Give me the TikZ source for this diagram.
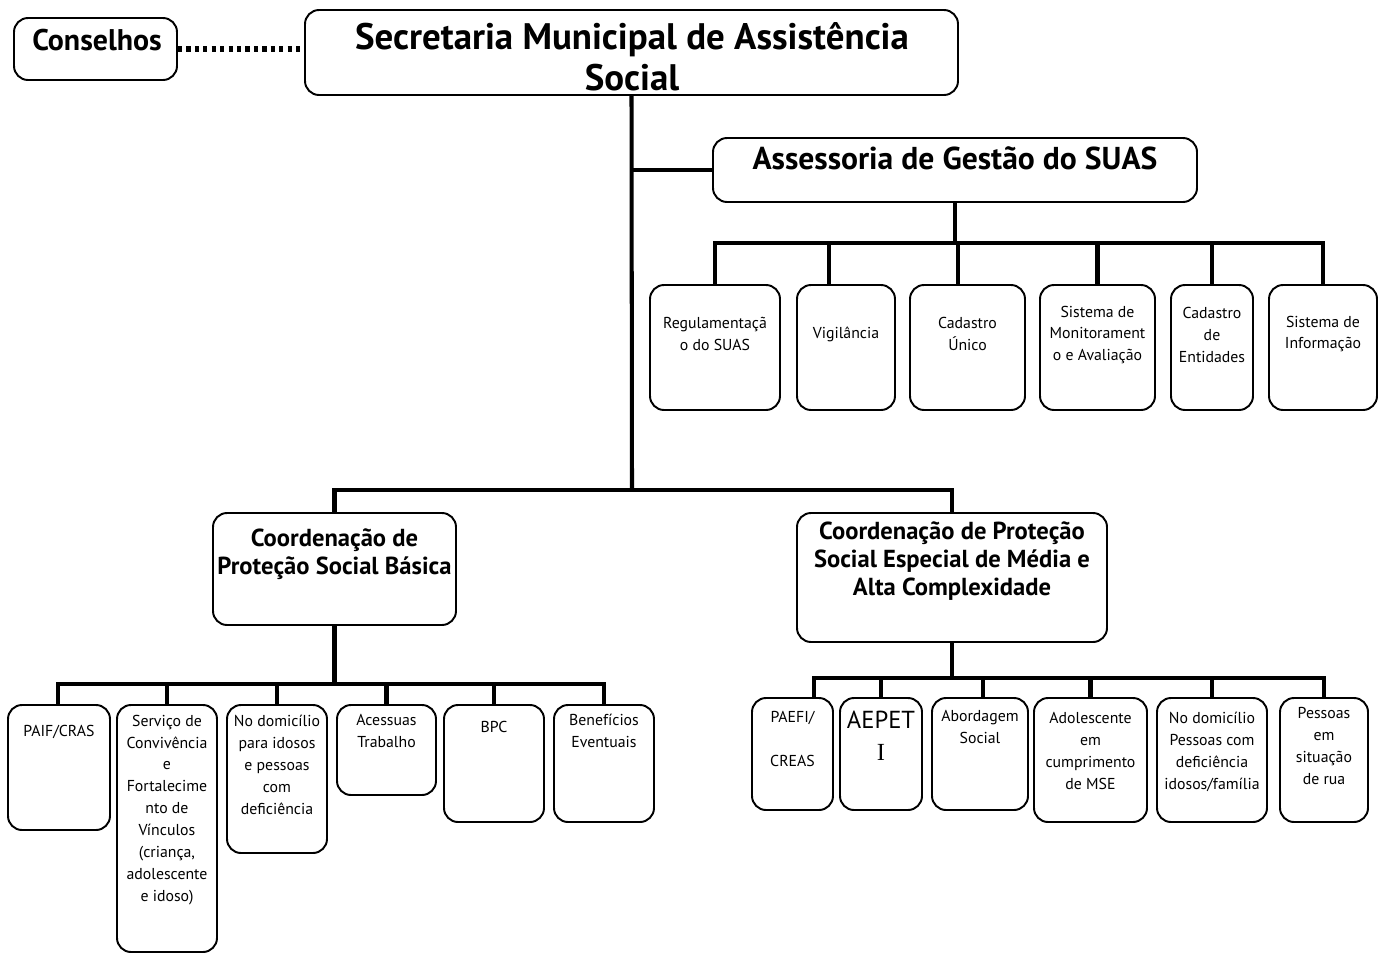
\documentclass[tikz,border=0pt]{standalone}
\usepackage{fontspec}
\setmainfont{PT Sans}
\newfontfamily\serifI{Liberation Serif}
\usetikzlibrary{positioning}

\tikzset{
  box/.style={draw, rounded corners=8pt, line width=1.1pt, inner sep=0pt},
  bw/.style={minimum width=#1*0.02cm},
  bh/.style={minimum height=#1*0.02cm},
  txt/.style={align=center, inner sep=0pt, font=\fontsize{9}{12.5}\selectfont},
  head/.style={align=center, inner sep=0pt, font=\bfseries\fontsize{14}{15.9}\selectfont},
  link/.style={line width=2.3pt},
  dots/.style={line width=3pt, dash pattern=on 2.4pt off 2.4pt},
}

\begin{document}
\begin{tikzpicture}[x=0.02cm, y=-0.02cm]
    \useasboundingbox (0,0) rectangle (1383,954);

    % Top level
    \node[box, bw=163, bh=62] (cons) at (95.5,49) {};
    \node[head, font=\bfseries\fontsize{17}{19}\selectfont] (cons-t) at (97,40) {Conselhos};
    \node[box, bw=653, bh=85] (sec) at (631.5,52.5) {};
    \node[head, font=\bfseries\fontsize{21}{23.4}\selectfont] (sec-t) at (632,57) {Secretaria Municipal de Assistência\\Social};
    \node[box, bw=484, bh=64] (ass) at (955,170) {};
    \node[head, font=\bfseries\fontsize{18}{20}\selectfont] (ass-t) at (955,158) {Assessoria de Gestão do SUAS};

    % Assessoria units
    \node[box, bw=130, bh=125] (reg) at (715,347.5) {};
    \node[txt] (reg-t) at (715,334) {Regulamentaçã\\o do SUAS};
    \node[box, bw=98, bh=125] (vig) at (846,347.5) {};
    \node[txt] (vig-t) at (846,334) {Vigilância};
    \node[box, bw=115, bh=125] (cad) at (967.5,347.5) {};
    \node[txt] (cad-t) at (967.5,334) {Cadastro\\Único};
    \node[box, bw=115, bh=125] (mon) at (1097.5,347.5) {};
    \node[txt] (mon-t) at (1097.5,335) {Sistema de\\Monitorament\\o e Avaliação};
    \node[box, bw=82, bh=125] (ent) at (1212,347.5) {};
    \node[txt] (ent-t) at (1212,335) {Cadastro\\de\\Entidades};
    \node[box, bw=108, bh=125] (inf) at (1323,347.5) {};
    \node[txt] (inf-t) at (1323,334) {Sistema de\\Informação};

    % Coordinations
    \node[box, bw=243, bh=112] (bas) at (334.5,569) {};
    \node[head] (bas-t) at (334.5,554) {Coordenação de\\Proteção Social Básica};
    \node[box, bw=310, bh=129] (esp) at (952,577.5) {};
    \node[head] (esp-t) at (952,561) {Coordenação de Proteção\\Social Especial de Média e\\Alta Complexidade};

    % Basic protection services
    \node[box, bw=102, bh=125] (paif) at (59,767.5) {};
    \node[txt] (paif-t) at (59,732) {PAIF/CRAS};
    \node[box, bw=100, bh=247] (serv) at (167,828.5) {};
    \node[txt] (serv-t) at (167,810) {Serviço de\\Convivência\\e\\Fortalecime\\nto de\\Vínculos\\(criança,\\adolescente\\e idoso)};
    \node[box, bw=100, bh=148] (dom) at (277,779) {};
    \node[txt] (dom-t) at (277,765) {No domicílio\\para idosos\\e pessoas\\com\\deficiência};
    \node[box, bw=99, bh=90] (aces) at (386.5,750) {};
    \node[txt] (aces-t) at (386.5,731) {Acessuas\\Trabalho};
    \node[box, bw=100, bh=117] (bpc) at (494,763.5) {};
    \node[txt] (bpc-t) at (494,727) {BPC};
    \node[box, bw=100, bh=117] (ben) at (604,763.5) {};
    \node[txt] (ben-t) at (604,731) {Benefícios\\Eventuais};

    % Special protection services
    \node[box, bw=81, bh=112] (paefi) at (792.5,754) {};
    \node[txt] (paefi-t) at (792.5,739) {PAEFI/\\[12.5pt]CREAS};
    \node[box, bw=82, bh=112] (aepet) at (881,754) {};
    \node[txt, font=\fontsize{14}{18}\selectfont] (aepet-t) at (881,736) {AEPET\\{\serifI I}};
    \node[box, bw=96, bh=112] (abo) at (980,754) {};
    \node[txt] (abo-t) at (980,727) {Abordagem\\Social};
    \node[box, bw=113, bh=124] (ado) at (1090.5,760) {};
    \node[txt] (ado-t) at (1090.5,751) {Adolescente\\em\\cumprimento\\de MSE};
    \node[box, bw=110, bh=124] (dom2) at (1212,760) {};
    \node[txt] (dom2-t) at (1212,752) {No domicílio\\Pessoas com\\deficiência\\idosos/família};
    \node[box, bw=88, bh=124] (rua) at (1324,760) {};
    \node[txt] (rua-t) at (1324,746) {Pessoas\\em\\situação\\de rua};

    % Connectors
    \draw[dots] (cons.east) -- (cons.east -| sec.west);
    \coordinate (j2) at (632,490);
    \draw[link] (sec.south) -- (j2);
    \draw[link] (ass.west) -- (ass.west -| j2);
    \draw[link] (bas.north) |- (j2) -| (esp.north);

    \draw[link] (ass.south) -- ++(0,40) coordinate (j1);
    \draw[link] (reg.north) |- (j1) -| (inf.north);
    \draw[link] ([xshift=-0.34cm]vig.north) -- ++(0,-43);
    \draw[link] ([xshift=-0.19cm]cad.north) -- ++(0,-43);
    \draw[link] (mon.north) -- ++(0,-43);
    \draw[link] (ent.north) -- ++(0,-43);

    \draw[link] (bas.south) -- ++(0,58) coordinate (j3);
    \draw[link] ([xshift=-0.02cm]paif.north) |- (j3) -| (ben.north);
    \draw[link] (serv.north) -- ++(0,-22);
    \draw[link] (dom.north) -- ++(0,-22);
    \draw[link] (aces.north) -- ++(0,-22);
    \draw[link] (bpc.north) -- ++(0,-22);

    \draw[link] (esp.south) -- ++(0,35) coordinate (j4);
    \draw[link] ([xshift=0.43cm]paefi.north) |- (j4) -| (rua.north);
    \draw[link] (aepet.north) -- ++(0,-21);
    \draw[link] ([xshift=0.06cm]abo.north) -- ++(0,-21);
    \draw[link] (ado.north) -- ++(0,-21);
    \draw[link] (dom2.north) -- ++(0,-21);

\end{tikzpicture}
\end{document}
